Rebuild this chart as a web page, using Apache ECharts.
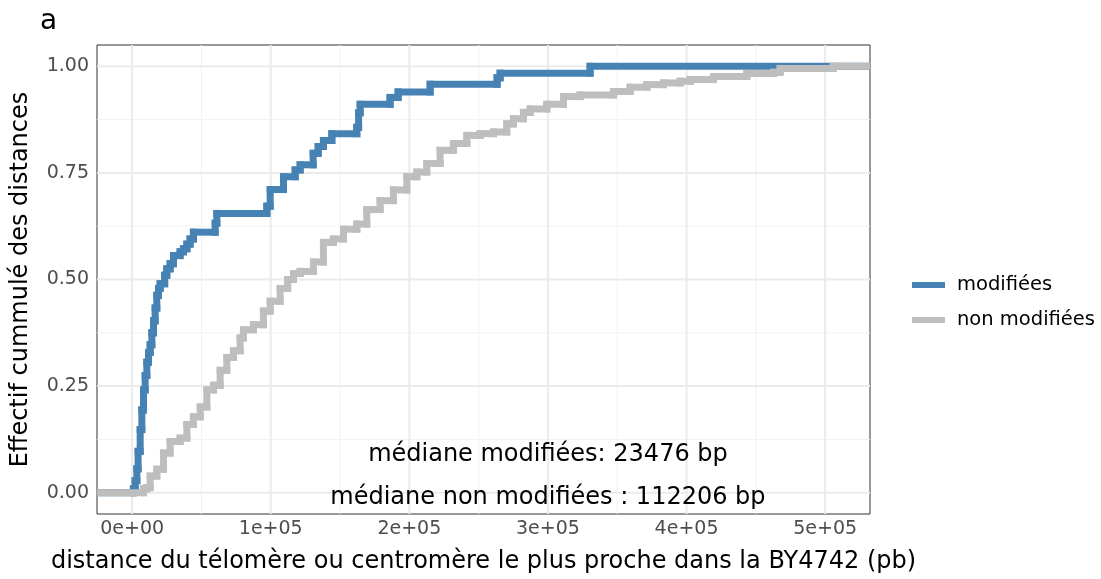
<!DOCTYPE html>
<html>
<head>
<meta charset="utf-8">
<script src="https://cdn.jsdelivr.net/npm/echarts@6/dist/echarts.min.js"></script>
<style>
  html, body { margin: 0; padding: 0; background: #ffffff; }
  #chart { width: 1101px; height: 579px; }
</style>
</head>
<body>
<div id="chart"></div>
<script>
// Empirical cumulative distributions: distance (bp) at each jump and the level reached
const modifDist = [900, 2200, 3400, 4300, 5800, 7000, 8200, 9400, 10600, 11800, 13000, 14200, 15400, 16600, 17800, 19000, 20200, 23476, 25000, 27400, 29800, 34600, 37000, 39500, 41800, 44200, 59900, 61100, 97200, 99600, 109200, 117600, 121200, 130600, 134200, 138000, 144100, 162100, 163400, 164500, 186100, 191900, 215000, 263300, 265500, 330400];
const modifCum = [0.009, 0.028, 0.056, 0.097, 0.148, 0.194, 0.241, 0.275, 0.306, 0.329, 0.347, 0.375, 0.403, 0.433, 0.463, 0.479, 0.49, 0.51, 0.525, 0.537, 0.556, 0.565, 0.572, 0.583, 0.595, 0.611, 0.632, 0.655, 0.672, 0.711, 0.741, 0.757, 0.769, 0.796, 0.812, 0.826, 0.842, 0.857, 0.891, 0.911, 0.927, 0.94, 0.958, 0.973, 0.984, 1.0];

const nonModifDist = [8200, 10600, 13000, 17800, 22600, 27400, 34600, 39500, 44200, 49100, 53900, 58700, 63500, 68300, 73100, 77900, 80300, 87500, 94700, 99600, 106800, 112206, 116400, 121200, 130800, 138000, 145200, 152500, 162100, 169300, 178900, 188500, 198200, 205400, 212600, 222200, 231800, 241500, 251100, 260700, 270300, 275100, 282300, 287200, 299200, 311200, 323200, 347300, 359300, 371400, 383300, 395400, 402600, 419400, 443500, 462700, 467500, 505800];
const nonModifCum = [0.009, 0.012, 0.039, 0.055, 0.093, 0.12, 0.128, 0.16, 0.178, 0.201, 0.241, 0.252, 0.287, 0.317, 0.333, 0.363, 0.382, 0.394, 0.426, 0.449, 0.479, 0.5, 0.514, 0.519, 0.541, 0.587, 0.595, 0.618, 0.63, 0.664, 0.685, 0.71, 0.741, 0.752, 0.772, 0.803, 0.819, 0.838, 0.842, 0.846, 0.865, 0.877, 0.892, 0.9, 0.911, 0.929, 0.933, 0.941, 0.951, 0.957, 0.961, 0.965, 0.969, 0.976, 0.983, 0.986, 0.995, 1.0];

const seriesNames = ['modifiées', 'non modifiées'];
const seriesColors = ['#4682B4', '#BEBEBE'];
const medianModif = 23476;
const medianNonModif = 112206;

// Axis breaks and labels
const xTickValues = [0, 100000, 200000, 300000, 400000, 500000];
const xTickLabels = ['0e+00', '1e+05', '2e+05', '3e+05', '4e+05', '5e+05'];
const xMinorValues = [50000, 150000, 250000, 350000, 450000];
const yTickValues = [0, 0.25, 0.5, 0.75, 1];
const yTickLabels = ['0.00', '0.25', '0.50', '0.75', '1.00'];
const yMinorValues = [0.125, 0.375, 0.625, 0.875];

// Data range with 5 % padding on each side
const xLo = 0, xHi = 507000;
const xMin = xLo - 0.05 * (xHi - xLo), xMax = xHi + 0.05 * (xHi - xLo);
const yMin = -0.05, yMax = 1.05;

const LINE_W = 7;

// Staircase vertices (horizontal run, then vertical jump), padded to both panel edges
function ecdfPoints(dist, cum) {
  const pts = [[xMin, 0]];
  let level = 0;
  dist.forEach((d, i) => {
    pts.push([d, level]);
    level = cum[i];
    pts.push([d, level]);
  });
  pts.push([xMax, level]);
  return pts;
}

function panelClip(cs) {
  return { type: 'rect', shape: { x: cs.x, y: cs.y, width: cs.width, height: cs.height } };
}

// Each staircase segment painted as a filled bar of constant thickness
function staircaseSeries(name, color, pts, z) {
  return {
    name: name,
    type: 'custom',
    coordinateSystem: 'cartesian2d',
    z: z,
    color: color,
    silent: true,
    data: [[xMin, 0]],
    renderItem: (params, api) => {
      const c = pts.map(p => api.coord(p));
      const h = LINE_W / 2;
      const children = [];
      for (let i = 0; i < c.length - 1; i++) {
        const a = c[i], b = c[i + 1];
        const x0 = Math.min(a[0], b[0]) - h, x1 = Math.max(a[0], b[0]) + h;
        const y0 = Math.min(a[1], b[1]) - h, y1 = Math.max(a[1], b[1]) + h;
        children.push({
          type: 'rect',
          shape: { x: x0, y: y0, width: x1 - x0, height: y1 - y0 },
          style: { fill: color }
        });
      }
      return { type: 'group', children: children, clipPath: panelClip(params.coordSys) };
    }
  };
}

// Major and minor panel grid lines as thin filled bands
const gridSpec = [
  { axis: 'x', values: xMinorValues, w: 1, color: '#F2F2F2' },
  { axis: 'y', values: yMinorValues, w: 1, color: '#F2F2F2' },
  { axis: 'x', values: xTickValues, w: 2, color: '#EBEBEB' },
  { axis: 'y', values: yTickValues, w: 2, color: '#EBEBEB' }
];

const FONT = 'DejaVu Sans';

const chart = echarts.init(document.getElementById('chart'), null, { renderer: 'canvas' });

chart.setOption({
  animation: false,
  backgroundColor: '#ffffff',
  title: {
    text: 'a',
    left: 35,
    top: 3,
    textStyle: { fontFamily: FONT, fontSize: 28, fontWeight: 'normal', color: '#000000' }
  },
  grid: {
    left: 97, right: 231, top: 45, bottom: 62,
    show: true, borderColor: '#333333', borderWidth: 1, backgroundColor: 'transparent'
  },
  legend: {
    orient: 'vertical',
    left: 907,
    top: 270,
    itemWidth: 33,
    itemHeight: 6,
    itemGap: 15,
    icon: 'rect',
    data: seriesNames.map((n, i) => ({ name: n, itemStyle: { color: seriesColors[i] } })),
    textStyle: { fontFamily: FONT, fontSize: 19.5, color: '#000000', padding: [0, 0, 0, 7] }
  },
  xAxis: {
    type: 'value',
    min: xMin, max: xMax,
    name: 'distance du télomère ou centromère le plus proche dans la BY4742 (pb)',
    nameLocation: 'middle',
    nameGap: 36,
    nameTextStyle: { fontFamily: FONT, fontSize: 24, color: '#000000' },
    axisLine: { show: false },
    axisTick: { show: true, length: 5, lineStyle: { color: '#333333', width: 1 }, customValues: xTickValues },
    axisLabel: {
      show: true, customValues: xTickValues, margin: 6,
      fontFamily: FONT, fontSize: 19, color: '#4D4D4D',
      formatter: v => xTickLabels[xTickValues.indexOf(v)] ?? ''
    },
    splitLine: { show: false },
    minorSplitLine: { show: false }
  },
  yAxis: {
    type: 'value',
    min: yMin, max: yMax,
    name: 'Effectif cummulé des distances',
    nameLocation: 'middle',
    nameGap: 64,
    nameTextStyle: { fontFamily: FONT, fontSize: 24, color: '#000000' },
    axisLine: { show: false },
    axisTick: { show: true, length: 5, lineStyle: { color: '#333333', width: 1 }, customValues: yTickValues },
    axisLabel: {
      show: true, customValues: yTickValues, margin: 8,
      fontFamily: FONT, fontSize: 19, color: '#4D4D4D',
      formatter: v => yTickLabels[yTickValues.findIndex(t => Math.abs(t - v) < 1e-9)] ?? ''
    },
    splitLine: { show: false }
  },
  series: [
    {
      // panel grid
      type: 'custom',
      coordinateSystem: 'cartesian2d',
      silent: true,
      z: 1,
      data: [[0, 0]],
      renderItem: (params, api) => {
        const cs = params.coordSys;
        const children = [];
        gridSpec.forEach(g => {
          g.values.forEach(v => {
            if (g.axis === 'x') {
              const px = api.coord([v, 0])[0];
              children.push({ type: 'rect', shape: { x: px - g.w / 2, y: cs.y, width: g.w, height: cs.height }, style: { fill: g.color } });
            } else {
              const py = api.coord([0, v])[1];
              children.push({ type: 'rect', shape: { x: cs.x, y: py - g.w / 2, width: cs.width, height: g.w }, style: { fill: g.color } });
            }
          });
        });
        return { type: 'group', children: children };
      }
    },
    staircaseSeries(seriesNames[0], seriesColors[0], ecdfPoints(modifDist, modifCum), 3),
    staircaseSeries(seriesNames[1], seriesColors[1], ecdfPoints(nonModifDist, nonModifCum), 4),
    {
      // median annotations
      type: 'scatter',
      symbolSize: 0,
      silent: true,
      z: 5,
      label: {
        show: true,
        position: 'inside',
        offset: [0, 5],
        fontFamily: FONT,
        fontSize: 24,
        color: '#000000',
        textBorderWidth: 0,
        textBorderColor: 'transparent',
        opacity: 1,
        formatter: p => p.data.text
      },
      data: [
        { value: [300000, 0.1], text: 'médiane modifiées: ' + medianModif + ' bp' },
        { value: [300000, 0], text: 'médiane non modifiées : ' + medianNonModif + ' bp' }
      ]
    }
  ]
});
</script>
</body>
</html>
